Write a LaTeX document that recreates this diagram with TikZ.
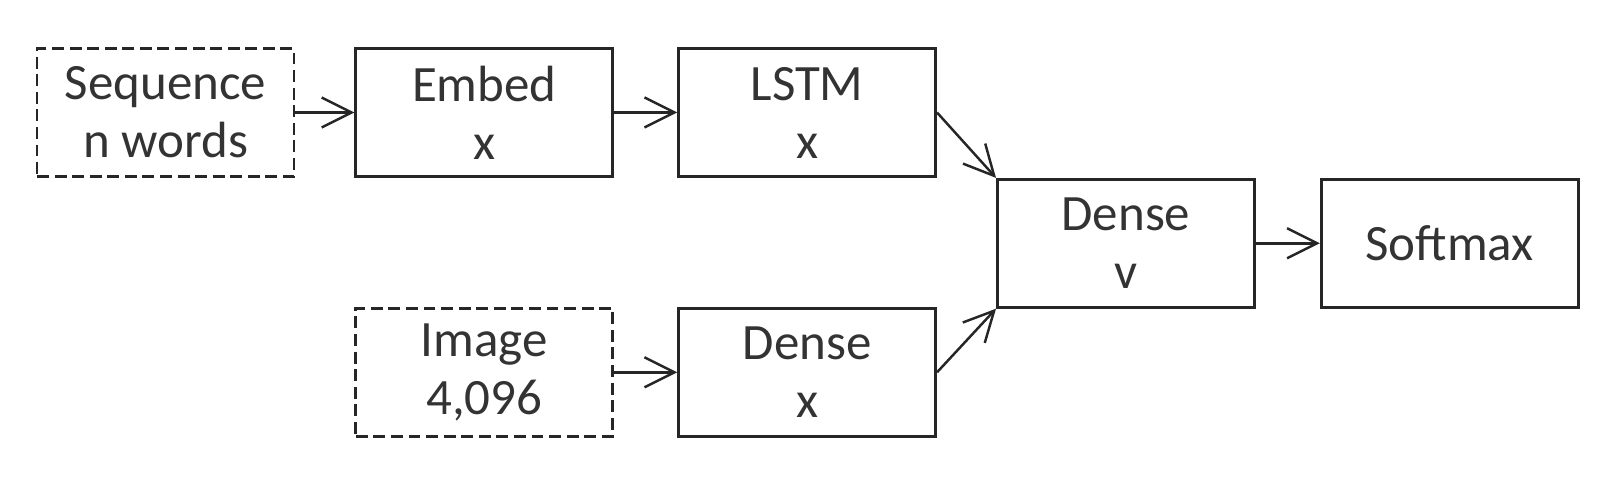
\documentclass[tikz,border=0pt]{standalone}
\usepackage{fontspec}
\setmainfont{Carlito}
\usetikzlibrary{arrows.meta, positioning}

\begin{document}
\begin{tikzpicture}[
  block/.style={rectangle, draw=black!85, line width=0.8pt, text=black!80,
    minimum width=2.57cm, minimum height=1.28cm, align=center,
    font=\fontsize{14.5}{16.5}\selectfont},
  inbox/.style={block, dash pattern=on 3.4pt off 1.6pt},
  link/.style={-{Straight Barb[length=3mm, width=3mm]}, line width=0.7pt, draw=black!85}
]
\useasboundingbox (0,0) rectangle (16.04,4.8);
% upper row: the word sequence
\node [inbox] (seq) at (1.655,3.675) {Sequence\\n words};
\node [block, right=0.59cm of seq] (embed) {Embed\\x};
\node [block, right=0.63cm of embed] (lstm) {LSTM\\x};
% lower row: the image features
\node [inbox, below=1.29cm of embed] (img) {Image\\4,096};
\node [block, below=1.29cm of lstm] (densex) {Dense\\x};
% merged part
\node [block, below right=0cm and 0.59cm of lstm] (densev) {Dense\\v};
\node [block, right=0.64cm of densev] (soft) {Softmax};

\draw [link] (seq) -- (embed);
\draw [link] (embed) -- (lstm);
\draw [link] (img) -- (densex);
\draw [link] (lstm.east) -- (densev.north west);
\draw [link] (densex.east) -- (densev.south west);
\draw [link] (densev) -- (soft);
\end{tikzpicture}
\end{document}
